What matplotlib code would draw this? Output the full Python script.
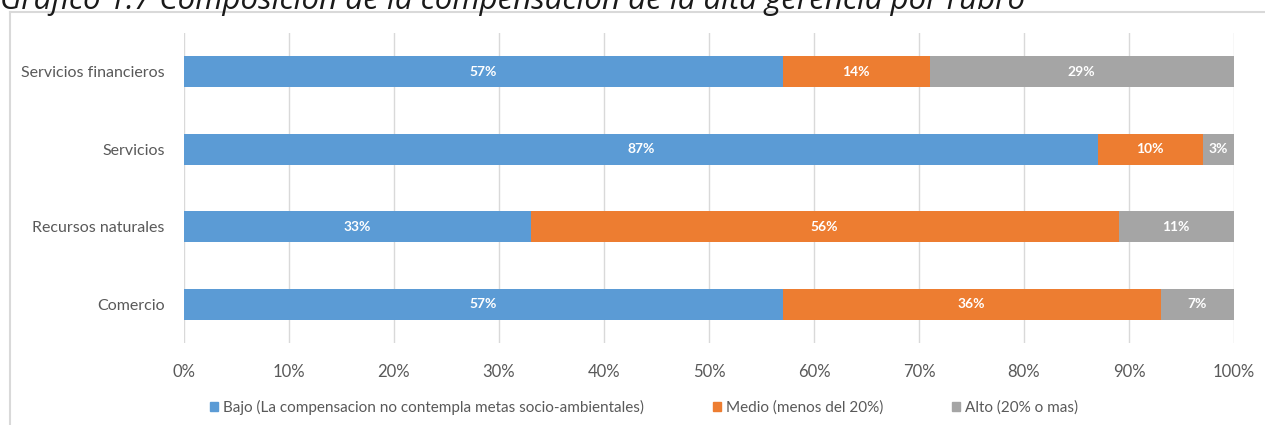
import numpy as np
import matplotlib.pyplot as plt
from matplotlib.patches import Patch
from matplotlib.lines import Line2D

# composicion por rubro (%), de abajo hacia arriba
rubros = ["Comercio", "Recursos naturales", "Servicios", "Servicios financieros"]
bajo = [57, 33, 87, 57]
medio = [36, 56, 10, 14]
alto = [7, 11, 3, 29]

series = [
    ("Bajo (La compensacion no contempla metas socio-ambientales)", bajo, "#5B9BD5"),
    ("Medio (menos del 20%)", medio, "#ED7D31"),
    ("Alto (20% o mas)", alto, "#A5A5A5"),
]

plt.rcParams["font.family"] = ["Lato", "DejaVu Sans"]

fig = plt.figure(figsize=(12.65, 4.25), dpi=100)
ax = fig.add_axes([184 / 1265, 1 - 343 / 425, 1050 / 1265, 310 / 425])

y = np.arange(len(rubros))
left = np.zeros(len(rubros))
for name, vals, color in series:
    vals = np.array(vals, dtype=float)
    ax.barh(y, vals, left=left, height=0.4, color=color, label=name, zorder=3)
    for yi, l, v in zip(y, left, vals):
        ax.text(l + v / 2, yi, f"{v:.0f}%", ha="center", va="center",
                color="white", fontsize=10, fontweight="bold", zorder=4)
    left += vals

ax.set_xlim(0, 100)
ax.set_ylim(-0.5, 3.5)
ax.set_xticks(np.arange(0, 101, 10))
ax.set_xticklabels([f"{t}%" for t in range(0, 101, 10)])
ax.set_yticks(y)
ax.set_yticklabels(rubros)
ax.tick_params(axis="x", length=0, labelsize=12, colors="#595959", pad=15)
ax.tick_params(axis="y", length=0, labelsize=11.5, colors="#595959", pad=14)
ax.grid(axis="x", color="#D9D9D9", linewidth=1, zorder=0)
for s in ax.spines.values():
    s.set_visible(False)

handles = [Patch(color=c) for _, _, c in series]
fig.legend(handles, [n for n, _, _ in series], loc="center", ncol=3,
           bbox_to_anchor=(0.509, 1 - 407 / 425), frameon=False, fontsize=11,
           handlelength=0.55, handleheight=0.55, handletextpad=0.3,
           columnspacing=4.5, labelcolor="#595959")

# marco del grafico
fig.add_artist(Line2D([10 / 1265, 1], [1 - 12 / 425] * 2, color="#D9D9D9", lw=1.5))
fig.add_artist(Line2D([10 / 1265] * 2, [0, 1 - 12 / 425], color="#D9D9D9", lw=1.5))

fig.text(0.0, 1 - 9 / 425, "Gráfico 1.7 Composición de la compensación de la alta gerencia por rubro",
         fontsize=22.5, fontstyle="italic", family=["Open Sans", "DejaVu Sans"],
         color="#1a1a1a", va="baseline", ha="left")

fig.savefig("out.png", dpi=100)
